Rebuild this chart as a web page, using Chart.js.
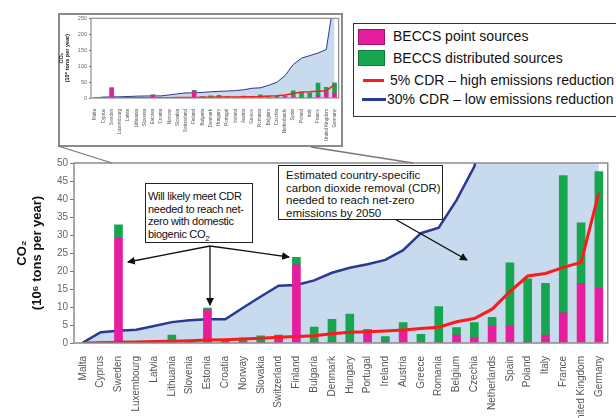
<!DOCTYPE html>
<html>
<head>
<meta charset="utf-8">
<title>BECCS vs CDR by country</title>
<script src="https://cdn.jsdelivr.net/npm/chart.js@4.4.1/dist/chart.umd.min.js"></script>
<style>
  html, body { margin: 0; padding: 0; background: #fff; }
  #page { position: relative; width: 616px; height: 418px; overflow: hidden; font-family: "Liberation Sans", Arial, sans-serif; }
  canvas { position: absolute; }
  #main { left: 0; top: 0; }
  #inset { left: 58px; top: 13px; }
  #insetFrame { position: absolute; left: 58px; top: 13px; width: 285px; height: 134px; border: 2px solid #8c8c8c; box-sizing: border-box; }
  svg { position: absolute; left: 0; top: 0; pointer-events: none; }
  .note { position: absolute; background: #fff; border: 1.5px solid #222; box-sizing: border-box; font-size: 11px; line-height: 12.6px; color: #111; white-space: nowrap; overflow: hidden; }
  #legend { position: absolute; left: 353px; top: 23px; width: 275px; height: 94px; border: 1.5px solid #333; box-sizing: border-box; background: #fff; font-size: 14px; color: #111; }
  .item { position: absolute; white-space: nowrap; line-height: 16px; }
  .swatch { position: absolute; width: 25px; height: 14px; }
  .stroke { position: absolute; height: 3px; }
</style>
</head>
<body>
<div id="page">
  <canvas id="main" width="616" height="418"></canvas>
  <div id="insetFrame"></div>
  <canvas id="inset" width="285" height="134"></canvas>

  <svg width="616" height="418">
    <defs>
      <marker id="head" markerWidth="8" markerHeight="8" refX="7" refY="4" orient="auto" markerUnits="userSpaceOnUse">
        <path d="M0,0 L8,4 L0,8 z" fill="#111"/>
      </marker>
    </defs>
    <!-- zoom connectors from inset to main plot -->
    <line x1="58" y1="146" x2="112" y2="163" stroke="#777" stroke-width="1.3"/>
    <line x1="311" y1="147" x2="413" y2="163" stroke="#777" stroke-width="1.3"/>
    <!-- callout arrows -->
    <line x1="210" y1="246" x2="128" y2="262" stroke="#111" stroke-width="1.3" marker-end="url(#head)"/>
    <line x1="210" y1="246" x2="210" y2="305" stroke="#111" stroke-width="1.3" marker-end="url(#head)"/>
    <line x1="210" y1="246" x2="289" y2="257" stroke="#111" stroke-width="1.3" marker-end="url(#head)"/>
    <line x1="393" y1="218" x2="467" y2="260" stroke="#111" stroke-width="1.3" marker-end="url(#head)"/>
  </svg>

  <div class="note" style="left:145px; top:183px; width:108px; height:60px; padding:6px 0 0 2px; letter-spacing:-0.3px;">
    Will likely meet CDR<br>needed to reach net-<br>zero with domestic<br>biogenic CO<sub style="font-size:8px; line-height:0;">2</sub>
  </div>
  <div class="note" style="left:278px; top:165px; width:165px; height:55px; padding:3px 0 0 7px; font-size:11.5px;">
    Estimated country-specific<br>carbon dioxide removal (CDR)<br>needed to reach net-zero<br>emissions by 2050
  </div>

  <div id="legend">
    <div class="swatch" style="left:4px; top:5px; background:#e61d9c; border:1px solid #9c1470;"></div>
    <div class="item" style="left:39px; top:4px;">BECCS point sources</div>
    <div class="swatch" style="left:4px; top:26px; background:#17a650; border:1px solid #0f7a3a;"></div>
    <div class="item" style="left:39px; top:26px;">BECCS distributed sources</div>
    <div class="stroke" style="left:9px; top:55px; width:21px; background:#ff1a1a;"></div>
    <div class="item" style="left:36px; top:48px;">5% CDR – high emissions reduction</div>
    <div class="stroke" style="left:8px; top:74px; width:24px; background:#2b3990;"></div>
    <div class="item" style="left:33px; top:67px;">30% CDR – low emissions reduction</div>
  </div>
</div>

<script>
// Countries, ordered as on the x axis
const countries = ['Malta', 'Cyprus', 'Sweden', 'Luxembourg', 'Latvia', 'Lithuania', 'Slovenia',
    'Estonia', 'Croatia', 'Norway', 'Slovakia', 'Switzerland', 'Finland', 'Bulgaria', 'Denmark',
    'Hungary', 'Portugal', 'Ireland', 'Austria', 'Greece', 'Romania', 'Belgium', 'Czechia',
    'Netherlands', 'Spain', 'Poland', 'Italy', 'France', 'United Kingdom', 'Germany'];

// BECCS potential, 10^6 t CO2 per year
const pointSources = [0, 0.1, 29.3, 0, 0.1, 0.2, 0.2, 9.2, 0.1, 0.2, 0.3, 2.0, 21.7, 0.3, 0.3,
    0.3, 3.2, 0.1, 3.4, 0.2, 0.3, 2.2, 1.5, 4.7, 4.7, 0.4, 2.2, 8.4, 16.6, 15.2];
const distributedSources = [0, 0.2, 3.5, 0.2, 0.3, 2.0, 0.6, 0.5, 0.8, 1.2, 1.7, 0.2, 2.1, 4.1, 6.3,
    7.7, 0.6, 1.7, 2.3, 2.2, 9.8, 2.1, 4.2, 2.4, 17.6, 17.4, 14.4, 38.1, 16.8, 32.4];

// CDR needed for net-zero by 2050
const cdrHigh = [0, 0.1, 0.2, 0.3, 0.4, 0.5, 0.6, 0.8, 0.9, 1.1, 1.3, 1.6, 1.8, 2.0, 2.6,
    3.0, 3.1, 3.3, 3.6, 4.0, 4.4, 5.9, 6.8, 9.4, 14.3, 18.6, 19.3, 21.0, 22.4, 41.8];
const cdrLow = [0.1, 3.0, 3.4, 3.7, 4.7, 5.8, 6.3, 6.6, 6.6, 9.8, 12.9, 15.9, 16.1, 17.4, 19.5,
    20.9, 21.9, 23.1, 25.8, 30.5, 32.0, 39.7, 49, 70, 105, 125, 133, 141, 152, 320];

const mainTicks = { max: 50, step: 5 };
const insetTicks = { max: 250, step: 50 };

const colors = {
    pink: '#e61d9c',
    green: '#17a650',
    red: '#ff1a1a',
    navy: '#2b3990',
    area: '#c8daee',
    frame: '#8c8c8c'
};

// draws the box round the plot area
const framePlugin = {
    id: 'frame',
    afterDatasetsDraw(chart, args, opts) {
        const a = chart.chartArea;
        const ctx = chart.ctx;
        ctx.save();
        ctx.strokeStyle = opts.color || colors.frame;
        ctx.lineWidth = opts.width || 1.5;
        ctx.strokeRect(a.left, a.top, a.right - a.left, a.bottom - a.top);
        ctx.restore();
    }
};

function buildDatasets(barWidth, redWidth, blueWidth) {
    return [
        {
            type: 'line', label: '5% CDR – high emissions reduction', data: cdrHigh,
            borderColor: colors.red, borderWidth: redWidth, pointRadius: 0,
            fill: false, tension: 0, stack: 'high', order: 0
        },
        {
            label: 'BECCS point sources', data: pointSources, backgroundColor: colors.pink,
            stack: 'beccs', barThickness: barWidth, order: 1
        },
        {
            label: 'BECCS distributed sources', data: distributedSources, backgroundColor: colors.green,
            stack: 'beccs', barThickness: barWidth, order: 1
        },
        {
            type: 'line', label: '30% CDR – low emissions reduction', data: cdrLow,
            borderColor: colors.navy, borderWidth: blueWidth, backgroundColor: colors.area,
            pointRadius: 0, fill: 'origin', tension: 0, stack: 'low', order: 3
        }
    ];
}

function makeChart(canvas, cfg) {
    return new Chart(canvas, {
        type: 'bar',
        data: { labels: countries, datasets: buildDatasets(cfg.barWidth, cfg.redWidth, cfg.blueWidth) },
        options: {
            responsive: false,
            animation: false,
            devicePixelRatio: 1,
            layout: { padding: cfg.padding },
            plugins: {
                legend: { display: false },
                tooltip: { enabled: false },
                frame: { color: colors.frame, width: cfg.frameWidth }
            },
            scales: {
                x: {
                    stacked: true,
                    grid: { display: false },
                    border: { display: false },
                    ticks: {
                        autoSkip: false, maxRotation: 90, minRotation: 90,
                        font: { family: 'Liberation Sans', size: cfg.xFont },
                        color: '#555', padding: cfg.xPad
                    },
                    afterFit(scale) { scale.height = cfg.xHeight; }
                },
                y: {
                    stacked: true,
                    min: 0,
                    max: cfg.ticks.max,
                    grid: { drawOnChartArea: false, tickLength: cfg.tickLen, color: '#777' },
                    border: { display: false },
                    ticks: {
                        stepSize: cfg.ticks.step,
                        font: { family: 'Liberation Sans', size: cfg.yFont },
                        color: '#666', padding: cfg.yPad
                    },
                    title: {
                        display: true,
                        text: ['CO₂', '(10⁶ tons per year)'],
                        font: { family: 'Liberation Sans', size: cfg.titleFont, weight: 'bold', lineHeight: 1.15 },
                        color: '#111',
                        padding: { top: cfg.titlePad, bottom: 0 }
                    },
                    afterFit(scale) { scale.width = cfg.yWidth; }
                }
            }
        },
        plugins: [framePlugin]
    });
}

// main chart
makeChart(document.getElementById('main'), {
    ticks: mainTicks,
    padding: { top: 163, right: 8, bottom: 0, left: 0 },
    barWidth: 8, redWidth: 3, blueWidth: 2.5, frameWidth: 1.5,
    xFont: 10, xPad: 5, xHeight: 75,
    yFont: 10, yPad: 2, tickLen: 4, yWidth: 74,
    titleFont: 13, titlePad: 15
});

// zoomed-out inset
makeChart(document.getElementById('inset'), {
    ticks: insetTicks,
    padding: { top: 4, right: 4, bottom: 0, left: 0 },
    barWidth: 4, redWidth: 1.5, blueWidth: 1, frameWidth: 1.2,
    xFont: 4.5, xPad: 3, xHeight: 49,
    yFont: 5.5, yPad: 2, tickLen: 2, yWidth: 33,
    titleFont: 5.5, titlePad: 0
});
</script>
</body>
</html>
